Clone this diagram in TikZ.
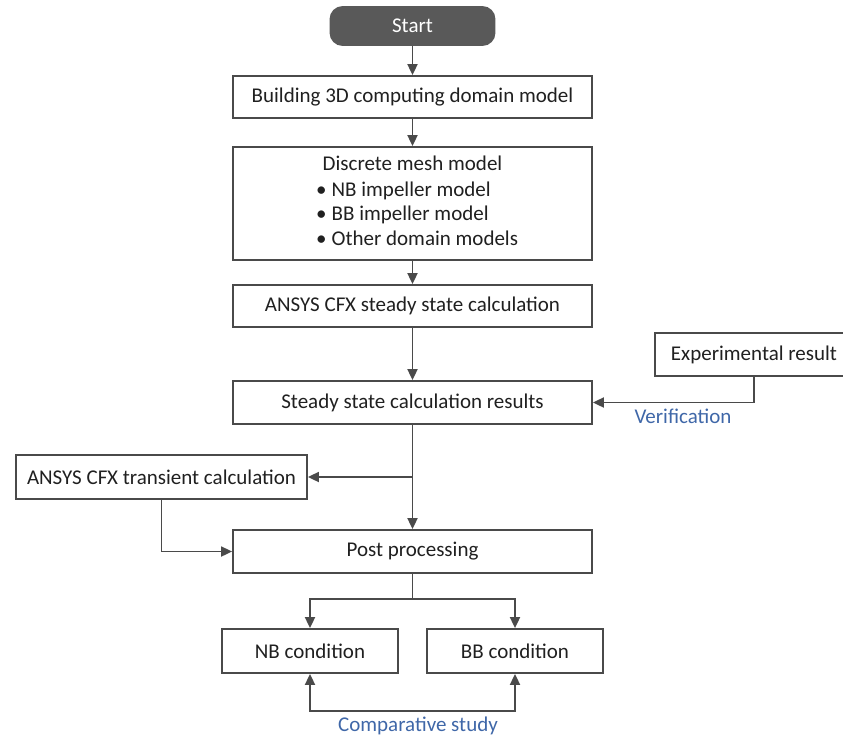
\documentclass[tikz,border=0pt]{standalone}
\usepackage{fontspec}
\setmainfont{Carlito}
\usetikzlibrary{arrows.meta}
\definecolor{linec}{HTML}{4A4A4A}
\definecolor{txtc}{HTML}{202020}
\definecolor{bluec}{HTML}{3F67A8}
\definecolor{startc}{HTML}{595959}
\begin{document}
\begin{tikzpicture}[x=1pt,y=-1pt,
  box/.style={draw=linec, line width=1.8pt, fill=white, minimum height=43pt, inner sep=0pt, text=txtc, font=\fontsize{21}{25}\selectfont},
  startbox/.style={box, fill=startc, draw=startc, text=white, rounded corners=12pt},
  txt/.style={inner sep=0pt, text=txtc, font=\fontsize{21}{25}\selectfont},
  lbl/.style={inner sep=0pt, text=bluec, font=\fontsize{21}{25}\selectfont},
  arr/.style={draw=linec, line width=1.8pt, -{Triangle[length=11pt,width=10pt]}},
  conn/.style={draw=linec, line width=1.8pt},
  dblarr/.style={draw=linec, line width=1.8pt, {Triangle[length=11pt,width=10pt]}-{Triangle[length=11pt,width=10pt]}}]
\useasboundingbox (0,0) rectangle (843,737);

\node[startbox, minimum width=164pt, minimum height=38pt] (start) at (412.5,26) {Start};
\node[box, minimum width=359pt, minimum height=42pt] (b1) at (412.5,97) {Building 3D computing domain model};
\node[box, minimum width=359pt, minimum height=113pt] (b2) at (412.5,203.5) {};
\node[txt, anchor=base] (b2t) at (412.5,170) {Discrete mesh model};
\node[txt, anchor=base west] (b2a) at (316,196) {•\hspace{5pt}NB impeller model};
\node[txt, anchor=base west] (b2b) at (316,220.5) {•\hspace{5pt}BB impeller model};
\node[txt, anchor=base west] (b2c) at (316,245) {•\hspace{5pt}Other domain models};
\node[box, minimum width=359pt, minimum height=42pt] (b3) at (412.5,306) {ANSYS CFX steady state calculation};
\node[box, minimum width=198pt] (exp) at (754,354.5) {Experimental result};
\node[box, minimum width=359pt] (b4) at (412.5,402.5) {Steady state calculation results};
\node[box, minimum width=291pt, minimum height=44pt] (trans) at (161.5,477) {ANSYS CFX transient calculation};
\node[box, minimum width=359pt] (post) at (412.5,551.5) {Post processing};
\node[box, minimum width=176pt, minimum height=44pt] (nb) at (310,651) {NB condition};
\node[box, minimum width=176pt, minimum height=44pt] (bb) at (515,651) {BB condition};

\node[lbl] (ver) at (683,416) {Verification};
\node[lbl] (cmp) at (418,726) {Comparative study};

\draw[arr] (start) -- (b1);
\draw[arr] (b1) -- (b2);
\draw[arr] (b2) -- (b3);
\draw[arr] (b3) -- (b4);
\draw[arr] (exp.south) |- (b4.east);
\draw[arr] (b4.south) -- (post.north);
\coordinate (br1) at (b4.south |- trans.east);
\draw[arr] (br1) -- (trans.east);
\draw[arr] (trans.south) |- (post.west);
\coordinate (br2) at (412.5,599);
\draw[conn] (post.south) -- (br2);
\draw[arr] (br2) -| (nb.north);
\draw[arr] (br2) -| (bb.north);
\coordinate (cb) at (412.5,711);
\draw[dblarr] (nb.south) |- (cb) -| (bb.south);
\end{tikzpicture}
\end{document}
